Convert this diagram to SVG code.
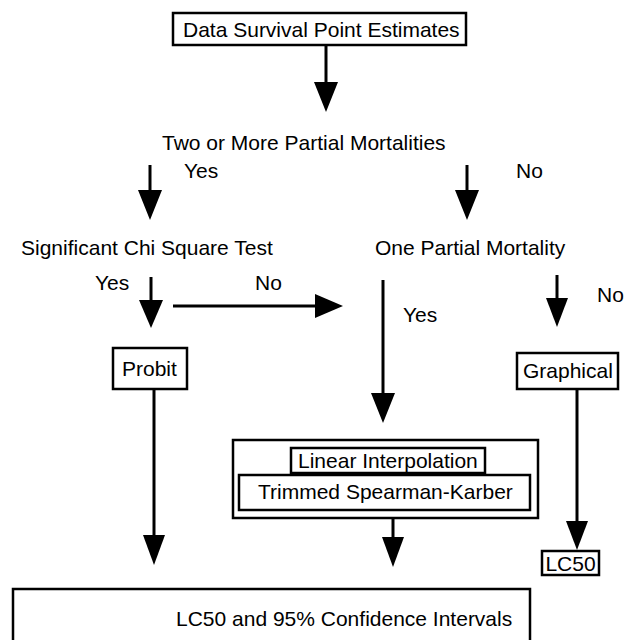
<svg xmlns="http://www.w3.org/2000/svg" width="628" height="640" viewBox="0 0 628 640">
<style>
.t{font-family:"Liberation Sans",Arial,sans-serif;font-size:21px;fill:#000}
.c{text-anchor:middle}
.box{fill:#fff;stroke:#000;stroke-width:2.5}
.ln{stroke:#000;stroke-width:3;fill:none}
.hd{fill:#000}
</style>
<rect width="628" height="640" fill="#fff"/>
<g id="connectors">
<line class="ln" x1="326" y1="45" x2="326" y2="84"/><polygon class="hd" points="314,82 338,82 326,112"/>
<line class="ln" x1="150" y1="165" x2="150" y2="192"/><polygon class="hd" points="138,190 162,190 150,220"/>
<line class="ln" x1="467" y1="165" x2="467" y2="192"/><polygon class="hd" points="455,190 479,190 467,220"/>
<line class="ln" x1="151" y1="277" x2="151" y2="302"/><polygon class="hd" points="139,300 163,300 151,328"/>
<line class="ln" x1="173" y1="306" x2="317" y2="306"/><polygon class="hd" points="315,294 315,318 343,306"/>
<line class="ln" x1="383" y1="280" x2="383" y2="395"/><polygon class="hd" points="371,393 395,393 383,423"/>
<line class="ln" x1="557" y1="275" x2="557" y2="300"/><polygon class="hd" points="546,298 568,298 557,327"/>
<line class="ln" x1="154" y1="389" x2="154" y2="537"/><polygon class="hd" points="143,535 165,535 154,565"/>
<line class="ln" x1="577" y1="389" x2="577" y2="523"/><polygon class="hd" points="566,521 588,521 577,550"/>
<line class="ln" x1="393" y1="518" x2="393" y2="539"/><polygon class="hd" points="382,537 404,537 393,567"/>
</g>
<g id="n-data"><rect class="box" x="173" y="13" width="293" height="32"/><text class="t" x="183" y="37">Data Survival Point Estimates</text></g>
<g id="n-two"><text class="t" x="162" y="150">Two or More Partial Mortalities</text></g>
<g id="l-yes1"><text class="t" x="184" y="178">Yes</text></g>
<g id="l-no1"><text class="t" x="516" y="178">No</text></g>
<g id="n-chi"><text class="t" x="21" y="255">Significant Chi Square Test</text></g>
<g id="n-one"><text class="t" x="375" y="255">One Partial Mortality</text></g>
<g id="l-yes2"><text class="t" x="95" y="290">Yes</text></g>
<g id="l-no2"><text class="t" x="255" y="290">No</text></g>
<g id="l-yes3"><text class="t" x="403" y="322">Yes</text></g>
<g id="l-no3"><text class="t" x="597" y="302">No</text></g>
<g id="n-probit"><rect class="box" x="113" y="348" width="74" height="41"/><text class="t" x="122" y="376">Probit</text></g>
<g id="n-graph"><rect class="box" x="517" y="353" width="101" height="36"/><text class="t" x="523" y="378">Graphical</text></g>
<g id="n-methods"><rect class="box" x="233" y="440" width="305" height="78"/>
<rect class="box" x="291" y="448" width="194" height="25"/><text class="t" x="298" y="468">Linear Interpolation</text>
<rect class="box" x="239" y="475" width="291" height="35"/><text class="t" x="258" y="499">Trimmed Spearman-Karber</text></g>
<g id="n-lc50"><rect class="box" x="542" y="551" width="57" height="24"/><text class="t c" x="570.5" y="571">LC50</text></g>
<g id="n-final"><rect class="box" x="13" y="589" width="517" height="70"/><text class="t" x="176" y="626">LC50 and 95% Confidence Intervals</text></g>
</svg>
